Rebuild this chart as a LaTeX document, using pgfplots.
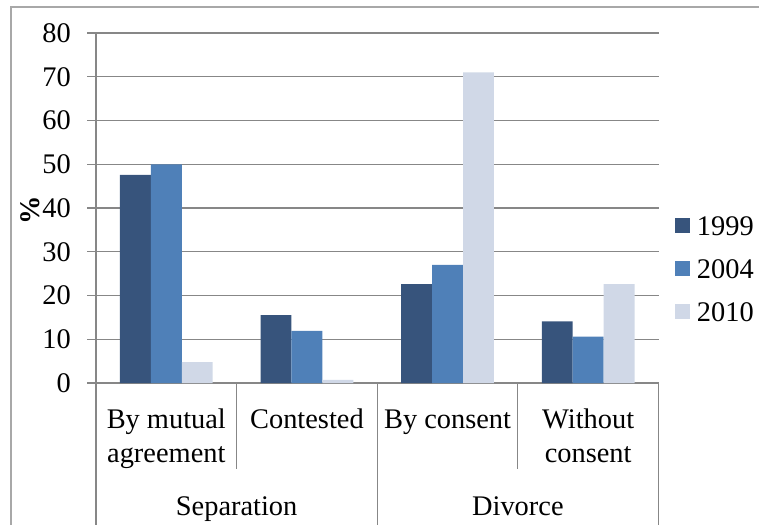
\documentclass[border=0pt]{standalone}
\usepackage{fontspec}
\setmainfont{Liberation Serif}
\usepackage{pgfplots}
\usepackage{pgfplotstable}
\pgfplotsset{compat=1.18}

\definecolor{c1999}{HTML}{37547C}
\definecolor{c2004}{HTML}{4F80B8}
\definecolor{c2010}{HTML}{D0D8E7}
\definecolor{axisgray}{HTML}{878787}
\definecolor{framegray}{HTML}{A8A8A8}
\newcommand{\chartfont}{\fontsize{28.5}{34}\selectfont}

% share of proceedings by type (%), categories at x = 0..3
\pgfplotstableread{
cat y1999 y2004 y2010
0   47.6  50.0  4.8
1   15.5  11.9  0.7
2   22.6  27.0  71.0
3   14.1  10.6  22.6
}\sepdata

\pgfplotsset{
  sq legend/.style={legend image code/.code={\fill[##1,draw=none] (0bp,-6.5bp) rectangle (15bp,8.5bp);}},
}

\begin{document}
\begin{tikzpicture}
\path[use as bounding box] (0,0) rectangle (759bp,525bp);
\draw[framegray, line width=1.2bp] (11bp,0) -- (11bp,518bp) -- (759bp,518bp);
\begin{axis}[
  at={(96bp,142bp)}, anchor=south west,
  scale only axis, width=562.5bp, height=350bp,
  xmin=-0.5, xmax=3.5, ymin=0, ymax=80,
  axis x line*=bottom, axis y line*=left,
  axis line style={axisgray, line width=1.2bp, -},
  xtick=\empty,
  ytick={0,10,...,80},
  tick align=outside, major tick length=8.7bp,
  ytick style={axisgray, line width=1.2bp},
  ymajorgrids, grid style={axisgray, line width=1.2bp},
  ticklabel style={font=\chartfont},
  /pgf/number format/assume math mode=true,
  yticklabel style={inner sep=0pt, xshift=-16.3bp},
  ylabel={\textbf{\%}},
  ylabel style={font=\chartfont, at={(axis description cs:-0.1173,0.494)}, anchor=center, inner sep=0pt},
  clip=false,
  legend style={draw=none, fill=none, inner sep=0pt, outer sep=0pt,
    at={(1.0293,0.4751)}, anchor=north west, font=\chartfont,
    row sep=22.7bp, column sep=7bp, nodes={inner sep=0pt}},
  legend cell align=left,
  ybar, bar width=0.22,
]
\addplot[fill=c1999, draw=none, bar shift=-0.22, sq legend] table[x=cat, y=y1999] {\sepdata};
\addplot[fill=c2004, draw=none, bar shift=0, sq legend] table[x=cat, y=y2004] {\sepdata};
\addplot[fill=c2010, draw=none, bar shift=0.22, sq legend] table[x=cat, y=y2010] {\sepdata};
\legend{1999,2004,2010}

% category boundaries below the axis
\draw[axisgray, line width=1.2bp] (axis cs:-0.5,0) -- ++(0bp,-142bp);
\draw[axisgray, line width=1.2bp] (axis cs:0.5,0) -- ++(0bp,-86bp);
\draw[axisgray, line width=1.2bp] (axis cs:1.5,0) -- ++(0bp,-142bp);
\draw[axisgray, line width=1.2bp] (axis cs:2.5,0) -- ++(0bp,-86bp);
\draw[axisgray, line width=1.2bp] (axis cs:3.5,0) -- ++(0bp,-142bp);

% category labels
\node[font=\chartfont, anchor=base, yshift=-45bp] at (axis cs:0,0) {By mutual};
\node[font=\chartfont, anchor=base, yshift=-79bp] at (axis cs:0,0) {agreement};
\node[font=\chartfont, anchor=base, yshift=-45bp] at (axis cs:1,0) {Contested};
\node[font=\chartfont, anchor=base, yshift=-45bp] at (axis cs:2,0) {By consent};
\node[font=\chartfont, anchor=base, yshift=-45bp] at (axis cs:3,0) {Without};
\node[font=\chartfont, anchor=base, yshift=-79bp] at (axis cs:3,0) {consent};
% group labels
\node[font=\chartfont, anchor=base, yshift=-132bp] at (axis cs:0.5,0) {Separation};
\node[font=\chartfont, anchor=base, yshift=-132bp] at (axis cs:2.5,0) {Divorce};
\end{axis}
\end{tikzpicture}
\end{document}
